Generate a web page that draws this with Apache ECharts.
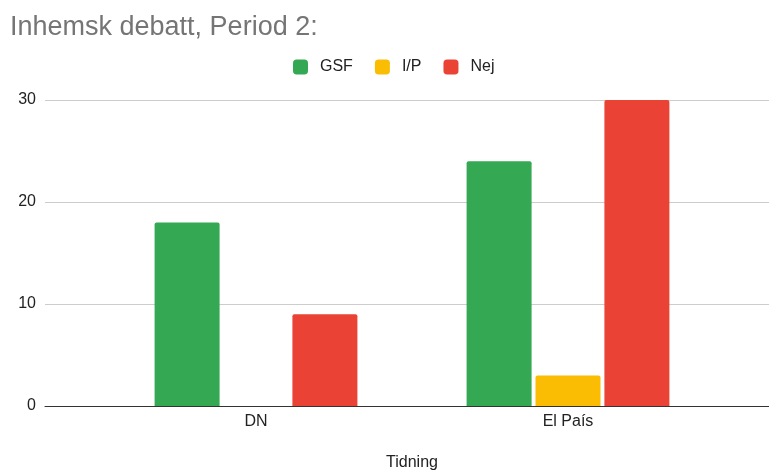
<!DOCTYPE html>
<html>
<head>
<meta charset="utf-8">
<script src="https://cdn.jsdelivr.net/npm/echarts@6/dist/echarts.min.js"></script>
<style>
  html, body { margin: 0; padding: 0; background: #fff; }
  #chart { width: 769px; height: 473px; }
</style>
</head>
<body>
<div id="chart"></div>
<script>
const categories = ["DN", "El País"];
const gsf = [18, 24];
const ip = [0, 3];
const nej = [9, 30];
const yTicks = [0, 10, 20, 30];

const chart = echarts.init(document.getElementById("chart"));
const font = "'Liberation Sans', Arial, sans-serif";

const barStyle = (color) => ({ color: color, borderRadius: [2, 2, 0, 0], borderWidth: 0 });

chart.setOption({
  animation: false,
  title: {
    text: "Inhemsk debatt, Period 2:",
    left: 5,
    top: 9,
    textStyle: { color: "#757575", fontSize: 27, fontWeight: "normal", fontFamily: font },
  },
  legend: {
    top: 54,
    left: 288,
    itemWidth: 15,
    itemHeight: 15,
    itemGap: 22,
    icon: "roundRect",
    textStyle: { color: "#222", fontSize: 16, fontFamily: font, padding: [0, 0, 0, 7] },
    data: ["GSF", "I/P", "Nej"],
  },
  // grid 0 carries the y labels and gridlines across the full width,
  // grid 1 holds the bars with inner padding like the original
  grid: [
    { left: 45, right: 0, top: 100, bottom: 67, outerBoundsMode: "none" },
    { left: 100, right: 45, top: 100, bottom: 67, outerBoundsMode: "none" },
  ],
  xAxis: [
    {
      gridIndex: 0,
      type: "category",
      data: categories,
      axisLine: { show: true, lineStyle: { color: "#333", width: 1 } },
      axisTick: { show: false },
      axisLabel: { show: false },
    },
    {
      gridIndex: 1,
      type: "category",
      data: categories,
      axisLine: { show: false },
      axisTick: { show: false },
      axisLabel: { color: "#222", fontSize: 16, fontFamily: font, margin: 8 },
      name: "Tidning",
      nameLocation: "middle",
      nameGap: 49,
      nameTextStyle: { color: "#222", fontSize: 16, fontFamily: font },
    },
  ],
  yAxis: [
    {
      gridIndex: 0,
      type: "value",
      min: yTicks[0],
      max: yTicks[yTicks.length - 1],
      interval: 10,
      axisLine: { show: false },
      axisTick: { show: false },
      axisLabel: { color: "#222", fontSize: 16, fontFamily: font, margin: 9 },
      splitLine: { lineStyle: { color: "#ccc" } },
    },
    {
      gridIndex: 1,
      type: "value",
      min: yTicks[0],
      max: yTicks[yTicks.length - 1],
      interval: 10,
      show: false,
      splitLine: { show: false },
    },
  ],
  series: [
    {
      name: "GSF", type: "bar", xAxisIndex: 1, yAxisIndex: 1, data: gsf,
      itemStyle: barStyle("#34A853"), barCategoryGap: "35%", barGap: "6%",
    },
    {
      name: "I/P", type: "bar", xAxisIndex: 1, yAxisIndex: 1, data: ip,
      itemStyle: barStyle("#FBBC04"), barCategoryGap: "35%", barGap: "6%",
    },
    {
      name: "Nej", type: "bar", xAxisIndex: 1, yAxisIndex: 1, data: nej,
      itemStyle: barStyle("#EA4335"), barCategoryGap: "35%", barGap: "6%",
    },
  ],
});
</script>
</body>
</html>
